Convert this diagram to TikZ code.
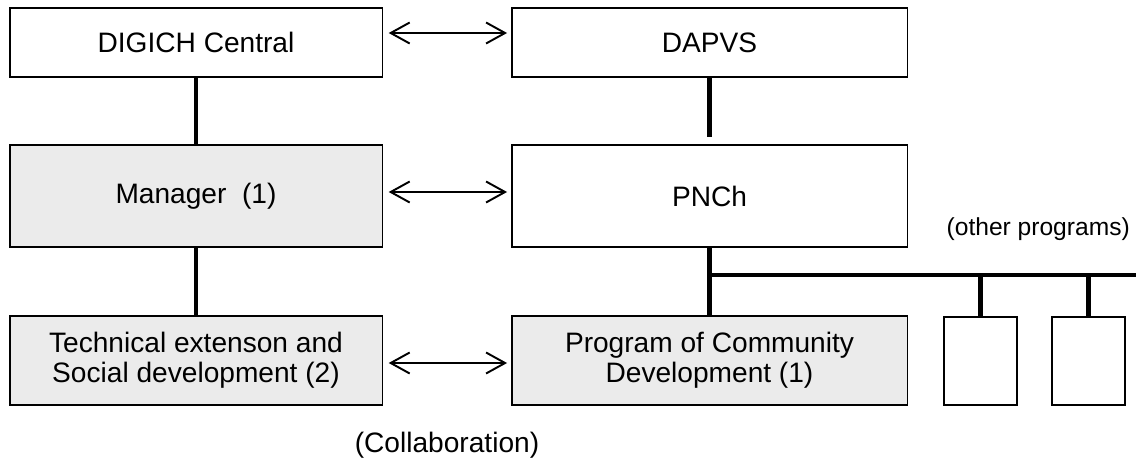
\documentclass[tikz,border=0pt]{standalone}
\usepackage{fontspec}
\setmainfont{Liberation Sans}
\usetikzlibrary{arrows.meta,positioning,calc}

\begin{document}
\begin{tikzpicture}[x=0.02cm,y=-0.02cm,
  box/.style={draw,line width=1.1pt,align=center,inner sep=0pt,font=\fontsize{16}{17.2}\selectfont},
  lbox/.style={box,minimum width=7.46cm},
  rbox/.style={box,minimum width=7.92cm},
  shaded/.style={fill=black!8},
  tie/.style={line width=2.3pt},
  link/.style={{Straight Barb[length=3.8mm,width=4.2mm]}-{Straight Barb[length=3.8mm,width=4.2mm]},line width=1.1pt,shorten <=3pt,shorten >=2pt}]
 \useasboundingbox (0,0) rectangle (1136,463);
 % top row
 \node[lbox,minimum height=1.37cm] (digich) at (196,42.5) {DIGICH Central};
 \node[rbox,minimum height=1.37cm] (dapvs) at (709.5,42.5) {DAPVS};
 % middle row
 \node[lbox,shaded,minimum height=2.03cm] (manager) at (196,196) {Manager~~(1)};
 \node[rbox,minimum height=2.03cm] (pnch) at (709.5,196) {PNCh};
 % bottom row
 \node[lbox,shaded,minimum height=1.77cm] (tech) at (196,360.5) {Technical extenson and\\Social development (2)};
 \node[rbox,shaded,minimum height=1.77cm] (pcd) at (709.5,360.5) {Program of Community\\Development (1)};
 \node[box,minimum width=1.45cm,minimum height=1.76cm] (prog1) at (980.5,361) {};
 \node[box,minimum width=1.45cm,minimum height=1.76cm] (prog2) at (1088.5,361) {};
 \node[font=\fontsize{14}{16}\selectfont,anchor=east] (other) at (1136,229) {(other programs)};
 \node[font=\fontsize{16}{18}\selectfont] (collab) at (447,445) {(Collaboration)};
 % hierarchy
 \draw[tie] (digich) -- (manager);
 \draw[tie] (manager) -- (tech);
 \draw[tie,shorten >=0.14cm] (dapvs) -- (pnch);
 \draw[tie] (pnch) -- (pcd);
 \coordinate (bus) at (pnch.south |- 0,275);
 \coordinate (busend) at (1136,275);
 \draw[tie] (bus) -- (busend);
 \draw[tie] (prog1.north |- bus) -- (prog1.north);
 \draw[tie] (prog2.north |- bus) -- (prog2.north);
 % arrows
 \draw[link] ([yshift=0.19cm]digich.east) -- ([yshift=0.19cm]dapvs.west);
 \draw[link] ([yshift=0.08cm]manager.east) -- ([yshift=0.08cm]pnch.west);
 \draw[link] ([yshift=-0.05cm]tech.east) -- ([yshift=-0.05cm]pcd.west);
\end{tikzpicture}
\end{document}
